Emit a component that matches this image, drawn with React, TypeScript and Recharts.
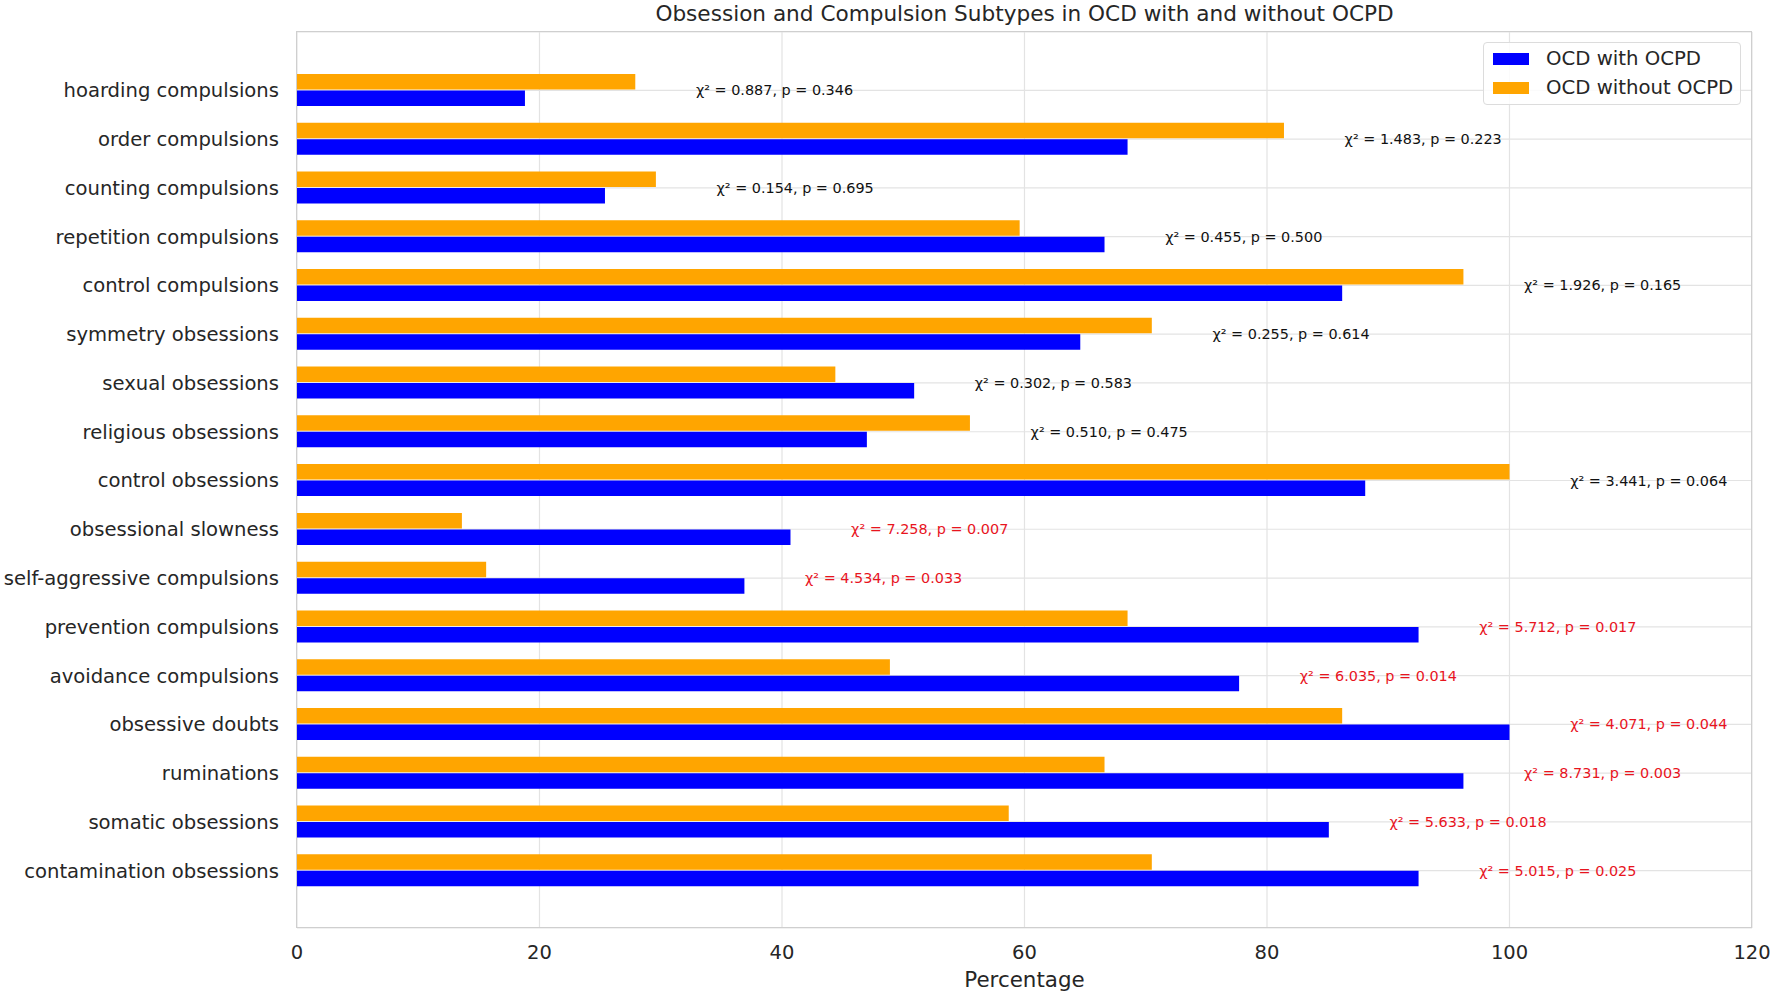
import {
  BarChart,
  Bar,
  XAxis,
  YAxis,
  CartesianGrid,
  ReferenceDot,
} from "recharts";

// categories, top to bottom as in the figure
const categories = [
  "hoarding compulsions",
  "order compulsions",
  "counting compulsions",
  "repetition compulsions",
  "control compulsions",
  "symmetry obsessions",
  "sexual obsessions",
  "religious obsessions",
  "control obsessions",
  "obsessional slowness",
  "self-aggressive compulsions",
  "prevention compulsions",
  "avoidance compulsions",
  "obsessive doubts",
  "ruminations",
  "somatic obsessions",
  "contamination obsessions",
];

const withOCPD = [
  18.8, 68.5, 25.4, 66.6, 86.2, 64.6, 50.9, 47.0, 88.1, 40.7, 36.9, 92.5, 77.7,
  100, 96.2, 85.1, 92.5,
];

const withoutOCPD = [
  27.9, 81.4, 29.6, 59.6, 96.2, 70.5, 44.4, 55.5, 100, 13.6, 15.6, 68.5, 48.9,
  86.2, 66.6, 58.7, 70.5,
];

const chiSquare = [
  "0.887", "1.483", "0.154", "0.455", "1.926", "0.255", "0.302", "0.510",
  "3.441", "7.258", "4.534", "5.712", "6.035", "4.071", "8.731", "5.633",
  "5.015",
];

const pValues = [
  "0.346", "0.223", "0.695", "0.500", "0.165", "0.614", "0.583", "0.475",
  "0.064", "0.007", "0.033", "0.017", "0.014", "0.044", "0.003", "0.018",
  "0.025",
];

const xTicks = [0, 20, 40, 60, 80, 100, 120];

const series = [
  { key: "with", name: "OCD with OCPD", color: "#0000ff" },
  { key: "without", name: "OCD without OCPD", color: "#ffa500" },
];

const data = categories.map((name, i) => ({
  name,
  with: withOCPD[i],
  without: withoutOCPD[i],
  chi: chiSquare[i],
  p: pValues[i],
}));

const FONT = "'DejaVu Sans', sans-serif";
const TEXT = "#262626";

export default function App() {
  return (
    <div
      style={{
        position: "absolute",
        left: 0,
        top: 0,
        width: 1772,
        height: 994,
        background: "#fff",
        fontFamily: FONT,
      }}
    >
      <div
        style={{
          position: "absolute",
          left: 297,
          width: 1455,
          top: 1,
          textAlign: "center",
          fontSize: 21.6,
          color: TEXT,
          whiteSpace: "nowrap",
        }}
      >
        Obsession and Compulsion Subtypes in OCD with and without OCPD
      </div>

      <BarChart
        width={1772}
        height={994}
        data={data}
        layout="vertical"
        margin={{ top: 32, right: 20, left: 0, bottom: 0 }}
        barSize={15.5}
        barGap={1}
      >
        <CartesianGrid stroke="#e3e3e3" strokeWidth={1.2} />
        <XAxis
          type="number"
          domain={[0, 120]}
          ticks={xTicks}
          height={66}
          tickLine={false}
          tickSize={0}
          tickMargin={17}
          axisLine={false}
          tick={{ fontSize: 19.5, fill: TEXT, fontFamily: FONT }}
          label={(props: any) => {
            const vb = props.viewBox;
            return (
              <text
                x={vb.x + vb.width / 2}
                y={979}
                textAnchor="middle"
                dominantBaseline="central"
                fontSize={21.4}
                fill={TEXT}
                fontFamily={FONT}
              >
                Percentage
              </text>
            );
          }}
        />
        <YAxis
          type="category"
          dataKey="name"
          width={297}
          padding={{ top: 34, bottom: 33 }}
          tickLine={false}
          tickSize={0}
          tickMargin={18}
          axisLine={false}
          interval={0}
          tick={{ fontSize: 19.6, fill: TEXT, fontFamily: FONT }}
        />
        <Bar
          dataKey="without"
          name={series[1].name}
          fill={series[1].color}
          isAnimationActive={false}
        />
        <Bar
          dataKey="with"
          name={series[0].name}
          fill={series[0].color}
          isAnimationActive={false}
        />
        {data.map((d) => {
          const significant = parseFloat(d.p) < 0.05;
          return (
            <ReferenceDot
              key={d.name}
              x={Math.max(d.with, d.without) + 5}
              y={d.name}
              r={1}
              fill="none"
              stroke="none"
              ifOverflow="visible"
              label={(props: any) => {
                const vb = props.viewBox;
                return (
                  <text
                    x={vb.x + vb.width / 2}
                    y={vb.y + vb.height / 2}
                    dominantBaseline="central"
                    fontSize={14.4}
                    fill={significant ? "#e8141e" : "#111"}
                    fontFamily={FONT}
                  >
                    {`χ² = ${d.chi}, p = ${d.p}`}
                  </text>
                );
              }}
            />
          );
        })}
      </BarChart>

      {/* plot frame */}
      <div
        style={{
          position: "absolute",
          left: 296,
          top: 31,
          width: 1456,
          height: 897,
          border: "1.5px solid #cfcfcf",
          boxSizing: "border-box",
          pointerEvents: "none",
        }}
      />

      {/* legend */}
      <div
        style={{
          position: "absolute",
          left: 1483,
          top: 42,
          width: 258,
          height: 63,
          border: "1px solid #dcdcdc",
          borderRadius: 4,
          background: "rgba(255,255,255,0.85)",
          boxSizing: "border-box",
          padding: "1px 0 0 9px",
        }}
      >
        {series.map((s) => (
          <div
            key={s.key}
            style={{
              display: "flex",
              alignItems: "center",
              height: 29,
              fontSize: 19.7,
              color: TEXT,
              whiteSpace: "nowrap",
            }}
          >
            <span
              style={{
                display: "inline-block",
                width: 36,
                height: 12,
                background: s.color,
                marginRight: 17,
              }}
            />
            {s.name}
          </div>
        ))}
      </div>
    </div>
  );
}
